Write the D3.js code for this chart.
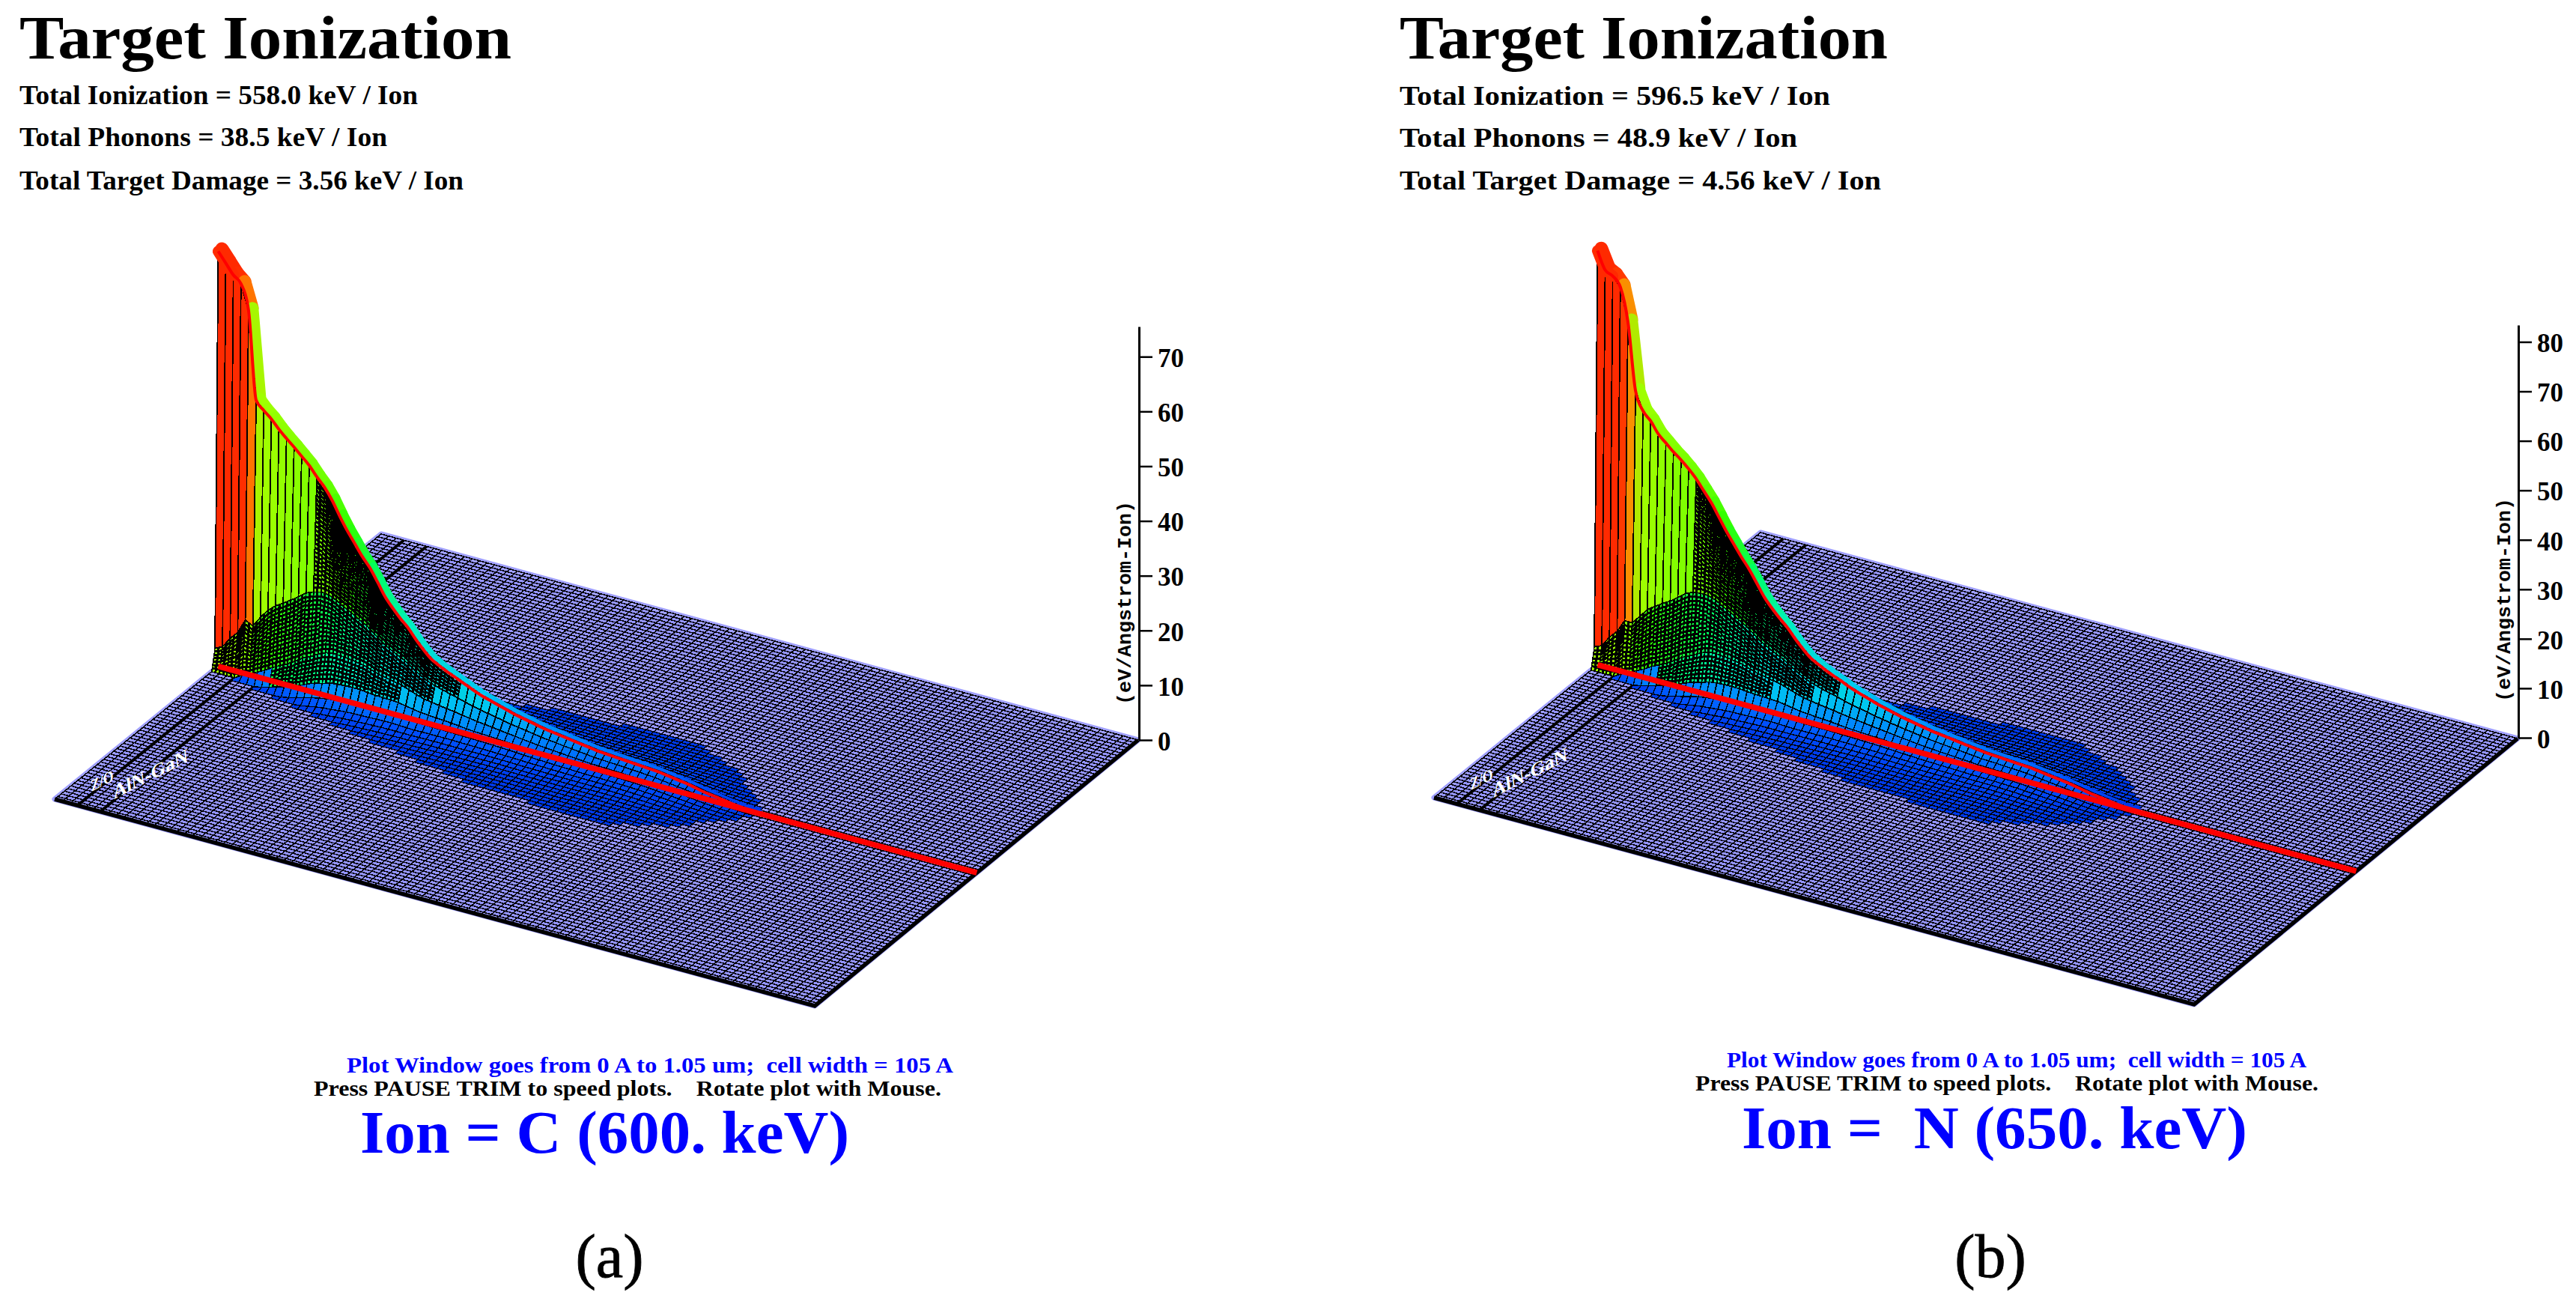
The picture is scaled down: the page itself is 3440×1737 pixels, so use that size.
<!DOCTYPE html>
<html>
<head>
<meta charset="utf-8">
<title>Target Ionization</title>
<script src="https://cdn.jsdelivr.net/npm/d3@7"></script>
<style>
  html, body { margin: 0; background: #fff; }
  svg { display: block; }
  text { font-family: "Liberation Serif", serif; white-space: pre; }
</style>
</head>
<body>
<svg id="chart" width="3440" height="1737"></svg>
<script>
// ionization on the ion track, one value per 105 A cell
const ionizationC = [75.8, 74, 72.2, 71, 66.5, 50.5, 49, 47.8, 46.3, 45, 43.8, 42.5, 41.2, 39.5, 38, 36, 33.5, 31.2, 29.2, 27.2,
  25.5, 23.3, 21, 19.3, 17.8, 16.5, 14.8, 13.3, 12, 11.2, 10.5, 9.9, 9.3, 8.7, 8.1, 7.6, 7.2, 6.8, 6.4, 6,
  5.7, 5.4, 5.1, 4.8, 4.6, 4.4, 4.2, 4, 3.8, 3.6, 3.4, 3.3, 3.2, 3.1, 3, 2.9, 2.8, 2.7, 2.6, 2.4,
  2.2, 2, 1.8, 1.5, 1.2, 1, 0.8, 0.6, 0.4, 0.25, 0.1, 0]
const ionizationN = [83.7, 80.2, 79.4, 77.6, 71, 57.5, 53.8, 52.2, 50, 48.6, 47.2, 46, 44.6, 43, 41, 39, 36.5, 34, 31.8, 29.6,
  27.6, 25.2, 22.8, 21, 19.4, 18, 16.2, 14.6, 13.2, 12.3, 11.5, 10.8, 10.2, 9.5, 8.9, 8.4, 7.9, 7.4, 7, 6.6,
  6.2, 5.9, 5.6, 5.3, 5, 4.8, 4.6, 4.4, 4.2, 4, 3.8, 3.6, 3.5, 3.4, 3.3, 3.2, 3.1, 3, 2.8, 2.6,
  2.4, 2.2, 2, 1.7, 1.4, 1.1, 0.9, 0.7, 0.5, 0.3, 0.1, 0]
// half width of the blue lobe on the floor, in cells, same cell index as above
const lobeHalfWidth = [1.5, 1.6, 1.8, 2, 2.3, 2.6, 2.9, 3.2, 3.5, 3.8, 4.1, 4.4, 4.8, 5.2, 5.6, 6, 6.4, 6.7, 7, 7.3,
  7.6, 7.9, 8.2, 8.5, 8.8, 9.1, 9.4, 9.7, 10, 10.3, 10.6, 10.9, 11.2, 11.5, 11.8, 12.1, 12.4, 12.7, 13, 13.3,
  13.5, 13.6, 13.7, 13.8, 13.9, 14, 14, 14.2, 14.4, 14.6, 14.8, 15, 15.2, 15.4, 15.4, 15.2, 15, 14.6, 14, 13.4,
  12.8, 12.2, 11.6, 11, 10, 9, 8, 7, 6, 4.5, 3, 1.5]
// cross section of the ridge, relative height from the track out to the lobe edge
const crossSection = [1, 0.62, 0.36, 0.2, 0.11, 0.06, 0.03, 0.012, 0]

const ticksC = [0, 10, 20, 30, 40, 50, 60, 70]
const ticksN = [0, 10, 20, 30, 40, 50, 60, 70, 80]
const axisTopC = 75.5
const axisTopN = 83.4

const titleText = 'Target Ionization'
const totalsC = ['Total Ionization = 558.0 keV / Ion', 'Total Phonons = 38.5 keV / Ion', 'Total Target Damage = 3.56 keV / Ion']
const totalsN = ['Total Ionization = 596.5 keV / Ion', 'Total Phonons = 48.9 keV / Ion', 'Total Target Damage = 4.56 keV / Ion']
const windowText = 'Plot Window goes from 0 A to 1.05 um;  cell width = 105 A'
const pressText = 'Press PAUSE TRIM to speed plots.    Rotate plot with Mouse.'
const ionC = 'Ion = C (600. keV)'
const ionN = 'Ion =  N (650. keV)'

const gridCells = 100
const trackRow = 50
const stripeCells = 12
const plate = {L: [73, 1067], B: [1088, 1343], R: [1520, 988], K: [509, 713]}

const heightColor = d3.scaleLinear()
  .domain([0, 0.02, 0.05, 0.1, 0.2, 0.3, 0.4, 0.5, 0.65, 0.86, 0.94, 1])
  .range(['#0038e8', '#0050ff', '#0080ff', '#00c8f0', '#00f0c0', '#00ff60', '#30ff00', '#70ff00', '#a0ff00', '#ff8800', '#ff2a00', '#ff2a00'])
  .clamp(true)

// square to quad projection for the floor
function floorProjection({L, B, R, K}) {
  const dx1 = B[0] - R[0], dx2 = K[0] - R[0], sx = L[0] - B[0] + R[0] - K[0]
  const dy1 = B[1] - R[1], dy2 = K[1] - R[1], sy = L[1] - B[1] + R[1] - K[1]
  const den = dx1 * dy2 - dx2 * dy1
  const g = (sx * dy2 - dx2 * sy) / den
  const h = (dx1 * sy - sx * dy1) / den
  const a = B[0] - L[0] + g * B[0], b = K[0] - L[0] + h * K[0]
  const d = B[1] - L[1] + g * B[1], e = K[1] - L[1] + h * K[1]
  return (u, v) => {
    const w = g * u + h * v + 1
    return [(a * u + b * v + L[0]) / w, (d * u + e * v + L[1]) / w]
  }
}

const cellScale = d3.scaleLinear().domain([0, gridCells]).range([0, 1])
const project = floorProjection(plate)
const floorPoint = (i, j) => project(cellScale(i), cellScale(j))

function drawPlate(g) {
  const outline = d3.line()([plate.L, plate.B, plate.R, plate.K]) + 'Z'
  g.append('path').attr('d', outline).attr('fill', '#9494ff')
    .attr('stroke', '#a0a0ff').attr('stroke-width', 7).attr('stroke-linejoin', 'round')

  let grid = ''
  d3.range(gridCells + 1).forEach(i => {
    grid += d3.line()([floorPoint(i, 0), floorPoint(i, gridCells)])
    grid += d3.line()([floorPoint(0, i), floorPoint(gridCells, i)])
  })
  g.append('path').attr('d', grid).attr('fill', 'none').attr('stroke', '#000')
    .attr('stroke-width', 1.5).attr('shape-rendering', 'crispEdges')

  // darker bands near the entrance edge
  const bands = [3, 6].map(i => d3.line()([floorPoint(i, 0), floorPoint(i, gridCells)])).join('')
  g.append('path').attr('d', bands).attr('fill', 'none').attr('stroke', '#000').attr('stroke-width', 4)
  g.append('path').attr('d', d3.line()([plate.L, plate.B, plate.R])).attr('fill', 'none')
    .attr('stroke', '#000').attr('stroke-width', 5.5)
}

// black sub mesh over one steep cell, what is left of the fill reads as specks
function subMesh([a, b, c, d], nv) {
  const mix = (p, q, t) => [p[0] + (q[0] - p[0]) * t, p[1] + (q[1] - p[1]) * t]
  let out = d3.line()([mix(a, b, 0.5), mix(d, c, 0.5)])
  d3.range(1, nv).forEach(k => {
    out += d3.line()([mix(a, d, k / nv), mix(b, c, k / nv)])
  })
  return out
}

function drawSurface(g, values, heightPx) {
  const peak = d3.max(values)
  const shapeAt = d3.scaleLinear().domain(crossSection.map((_, i) => i / (crossSection.length - 1))).range(crossSection).clamp(true)
  const z = (i, j) => {
    if (i >= values.length) return 0
    return values[i] * shapeAt(Math.abs(j - trackRow) / lobeHalfWidth[i])
  }
  const point = (i, j) => {
    const p = floorPoint(i, j)
    return [p[0], p[1] - heightPx(z(i, j))]
  }

  const makeCells = (rows, near) => {
    const out = []
    rows.forEach(j => {
      d3.range(values.length).forEach(i => {
        const top = Math.max(z(i, j), z(i + 1, j), z(i, j + 1), z(i + 1, j + 1))
        if (top < 0.01) return
        const quad = [point(i, j), point(i + 1, j), point(i + 1, j + 1), point(i, j + 1)]
        const tall = d3.max(quad, p => p[1]) - d3.min(quad, p => p[1])
        const stripe = j === trackRow - 1 && i <= stripeCells
        const dense = near && tall > 28 && !stripe
        const shade = dense ? Math.max(top, values[i] * 0.9 / Math.sqrt(trackRow - j)) : top
        out.push({
          d: d3.line()(quad) + 'Z',
          fill: heightColor(shade / peak),
          mesh: dense ? subMesh(quad, Math.ceil(tall / 6)) : null,
          width: top / peak < 0.06 ? 1.4 : 1.8
        })
      })
    })
    return out
  }

  const drawCells = (cls, cells) => g.selectAll('g.' + cls)
    .data(cells)
    .join('g')
    .attr('class', cls)
    .attr('shape-rendering', 'crispEdges')
    .each(function (c) {
      const cell = d3.select(this)
      cell.append('path').attr('d', c.d).attr('fill', c.fill)
        .attr('stroke', '#000').attr('stroke-width', c.width).attr('stroke-linejoin', 'bevel')
      if (c.mesh) cell.append('path').attr('d', c.mesh).attr('fill', 'none').attr('stroke', '#000').attr('stroke-width', 3)
    })

  // far flank first, then the coloured rim, then the near flank
  drawCells('far', makeCells(d3.range(gridCells - 1, trackRow - 1, -1), false))

  const ridge = values.map((_, i) => point(i, trackRow))
  d3.pairs(d3.range(values.length)).forEach(([i, k]) => {
    g.append('path')
      .attr('d', d3.line()([ridge[i], ridge[k]]))
      .attr('transform', 'translate(5,-3)')
      .attr('stroke', heightColor(values[k] / peak))
      .attr('stroke-width', 3 + 15 * Math.pow(values[i] / peak, 0.7))
      .attr('stroke-linecap', 'round')
  })

  drawCells('near', makeCells(d3.range(trackRow - 1, -1, -1), true))

  // red cap over the first cells
  g.append('path')
    .attr('d', d3.line()(ridge.slice(0, 3)))
    .attr('fill', 'none').attr('stroke', heightColor(1)).attr('stroke-width', 15).attr('stroke-linecap', 'round')

  // track on the floor and the ridge line above it
  g.append('path')
    .attr('d', d3.line()([floorPoint(0, trackRow), floorPoint(gridCells, trackRow)]))
    .attr('fill', 'none').attr('stroke', '#ff0000').attr('stroke-width', 7.5)
  g.append('path')
    .attr('d', d3.line().curve(d3.curveMonotoneX)(ridge))
    .attr('fill', 'none').attr('stroke', '#ff0000').attr('stroke-width', 4).attr('stroke-linejoin', 'round')
}

function drawAxis(g, zScale, ticks, labelY) {
  const axis = g.append('g')
    .attr('transform', `translate(${plate.R[0] + 1},0)`)
    .call(d3.axisRight(zScale).tickValues(ticks).tickSize(18).tickSizeOuter(0).tickPadding(7))
  axis.select('.domain').attr('stroke', '#000').attr('stroke-width', 3)
  axis.selectAll('.tick line').attr('stroke', '#000').attr('stroke-width', 2.5)
  axis.selectAll('.tick text')
    .attr('font-family', '"Liberation Serif", serif')
    .attr('font-weight', 'bold')
    .attr('font-size', 35)
    .attr('fill', '#000')
    .attr('dy', '0.38em')

  g.append('text')
    .attr('transform', `translate(${plate.R[0] - 10},${labelY}) rotate(-90)`)
    .attr('text-anchor', 'middle')
    .style('font-family', '"Liberation Mono", monospace')
    .attr('font-weight', 'bold')
    .attr('font-size', 26)
    .attr('textLength', 272)
    .attr('lengthAdjust', 'spacingAndGlyphs')
    .text('(eV/Angstrom-Ion)')
}

function drawPlateLabels(g) {
  g.append('text').attr('transform', 'translate(152,1067) rotate(-27) skewX(-20)')
    .attr('fill', '#fff').attr('font-weight', 'bold').attr('font-size', 24)
    .attr('textLength', 112).attr('lengthAdjust', 'spacingAndGlyphs').text('AlN-GaN')
  g.append('text').attr('transform', 'translate(122,1057) rotate(-27) skewX(-20)')
    .attr('fill', '#fff').attr('font-weight', 'bold').attr('font-size', 20)
    .attr('textLength', 34).attr('lengthAdjust', 'spacingAndGlyphs').text('Z/O')
}

function fitText(svg, str, x0, x1, y, size, fill) {
  svg.append('text')
    .attr('x', x0).attr('y', y)
    .attr('font-weight', 'bold')
    .attr('font-size', size)
    .attr('fill', fill)
    .attr('textLength', x1 - x0)
    .attr('lengthAdjust', 'spacingAndGlyphs')
    .text(str)
}

const svg = d3.select('#chart')

// panel (a)
const panelA = svg.append('g')
const zC = d3.scaleLinear().domain([0, axisTopC]).range([988, 436])
drawPlate(panelA)
drawPlateLabels(panelA)
drawSurface(panelA, ionizationC, v => zC(0) - zC(v))
drawAxis(panelA, zC, ticksC, 805)

// panel (b)
const panelB = svg.append('g').attr('transform', 'translate(1842,-2)')
const zN = d3.scaleLinear().domain([0, axisTopN]).range([987, 436])
drawPlate(panelB)
drawPlateLabels(panelB)
drawSurface(panelB, ionizationN, v => zN(0) - zN(v))
drawAxis(panelB, zN, ticksN, 803)

fitText(svg, titleText, 26, 683, 78, 82, '#000')
fitText(svg, totalsC[0], 26, 558, 139, 35, '#000')
fitText(svg, totalsC[1], 26, 517, 195, 35, '#000')
fitText(svg, totalsC[2], 26, 619, 253, 35, '#000')
fitText(svg, windowText, 463, 1273, 1432, 29, '#0000ff')
fitText(svg, pressText, 419, 1257, 1463, 29, '#000')
fitText(svg, ionC, 481, 1134, 1539, 80, '#0000ff')

fitText(svg, titleText, 1869, 2521, 78, 82, '#000')
fitText(svg, totalsN[0], 1869, 2444, 140, 35, '#000')
fitText(svg, totalsN[1], 1869, 2400, 196, 35, '#000')
fitText(svg, totalsN[2], 1869, 2512, 253, 35, '#000')
fitText(svg, windowText, 2306, 3080, 1425, 29, '#0000ff')
fitText(svg, pressText, 2264, 3096, 1456, 29, '#000')
fitText(svg, ionN, 2326, 3001, 1533, 80, '#0000ff')

svg.append('text').attr('x', 814).attr('y', 1705).attr('text-anchor', 'middle').attr('font-size', 82).attr('stroke', '#000').attr('stroke-width', 0.8).text('(a)')
svg.append('text').attr('x', 2658).attr('y', 1705).attr('text-anchor', 'middle').attr('font-size', 82).attr('stroke', '#000').attr('stroke-width', 0.8).text('(b)')
</script>
</body>
</html>
